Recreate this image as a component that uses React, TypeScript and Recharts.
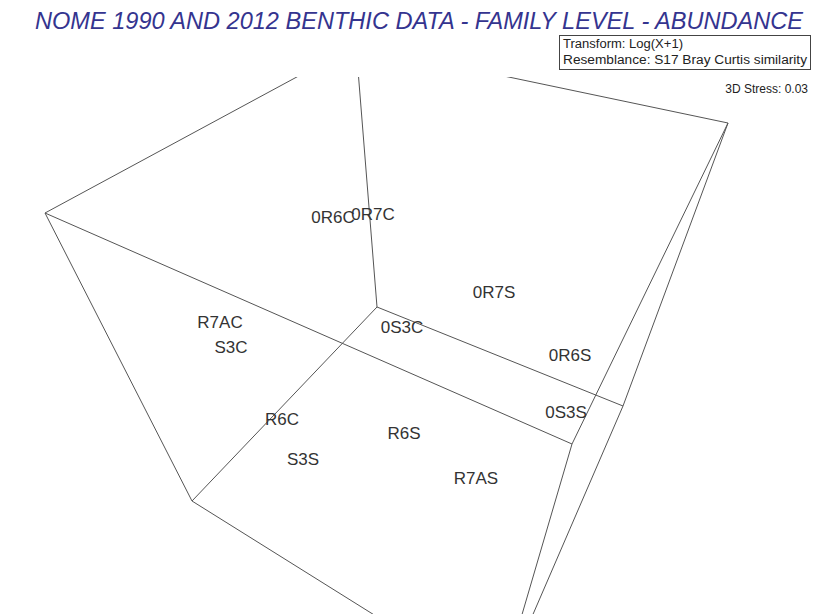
import React from 'react';
import { ScatterChart, Scatter, XAxis, YAxis, ReferenceLine } from 'recharts';

// Sample labels and their positions in the 3D MDS projection (plot units)
const sampleNames = ['0R6C', '0R7C', '0R7S', '0S3C', '0R6S', '0S3S', 'R7AC', 'S3C', 'R6C', 'R6S', 'S3S', 'R7AS'];
const sampleX = [333, 373, 494, 402, 570, 566, 220, 231, 282, 404, 303, 476];
const sampleY = [217, 214, 292, 327, 355, 412, 322, 347, 419, 433, 459, 478];

// Projected corners of the 3D frame box
const cornerX = [356, 45, 377, 728, 192, 572, 623, 499];
const cornerY = [45, 213, 307, 123, 501, 444, 406, 693];
// Box edges as pairs of corner indexes
const edgeFrom = [0, 0, 0, 1, 1, 2, 2, 3, 3, 4, 5, 6];
const edgeTo = [1, 2, 3, 4, 5, 6, 4, 5, 6, 7, 7, 7];

const title = 'NOME 1990 AND 2012 BENTHIC DATA - FAMILY LEVEL - ABUNDANCE';
const legendLines = ['Transform: Log(X+1)', 'Resemblance: S17 Bray Curtis similarity'];
const stressText = '3D Stress: 0.03';

const W = 814;
const H = 614;
const TOP = 77;

const points = sampleNames.map((name, i) => ({ name, x: sampleX[i], y: sampleY[i] }));

const SampleLabel = (props: any) => {
  const { cx, cy, payload } = props;
  return (
    <text
      x={cx}
      y={cy + 6}
      textAnchor="middle"
      fontFamily="Arial, 'Liberation Sans', sans-serif"
      fontSize={17}
      fill="#333"
    >
      {payload.name}
    </text>
  );
};

export default function App() {
  return (
    <div style={{ position: 'absolute', left: 0, top: 0, width: W, height: H, background: '#fff' }}>
      <ScatterChart width={W} height={H} margin={{ top: TOP, right: 0, bottom: 0, left: 0 }}>
        <XAxis type="number" dataKey="x" domain={[0, W]} allowDataOverflow hide />
        <YAxis type="number" dataKey="y" domain={[TOP, H]} reversed allowDataOverflow hide />
        {edgeFrom.map((a, i) => (
          <ReferenceLine
            key={i}
            segment={[
              { x: cornerX[a], y: cornerY[a] },
              { x: cornerX[edgeTo[i]], y: cornerY[edgeTo[i]] }
            ]}
            stroke="#555"
            strokeWidth={1}
            ifOverflow="hidden"
          />
        ))}
        <Scatter data={points} shape={<SampleLabel />} isAnimationActive={false} />
      </ScatterChart>
      <svg
        width={W}
        height={H}
        style={{ position: 'absolute', left: 0, top: 0, pointerEvents: 'none' }}
      >
        <text
          x={419}
          y={29}
          textAnchor="middle"
          fontFamily="Arial, 'Liberation Sans', sans-serif"
          fontStyle="italic"
          fontSize={23}
          fill="#34348f"
          textLength={768}
          lengthAdjust="spacingAndGlyphs"
        >
          {title}
        </text>
        <rect x={559.5} y={35.5} width={251} height={34} fill="#fff" stroke="#444" strokeWidth={1} />
        {legendLines.map((t, i) => (
          <text
            key={t}
            x={563}
            y={48 + i * 16}
            fontFamily="Arial, 'Liberation Sans', sans-serif"
            fontSize={12}
            fill="#222"
            textLength={i === 0 ? 120 : 244}
            lengthAdjust="spacingAndGlyphs"
          >
            {t}
          </text>
        ))}
        <text
          x={808}
          y={93}
          textAnchor="end"
          fontFamily="Arial, 'Liberation Sans', sans-serif"
          fontSize={12}
          fill="#222"
        >
          {stressText}
        </text>
      </svg>
    </div>
  );
}
